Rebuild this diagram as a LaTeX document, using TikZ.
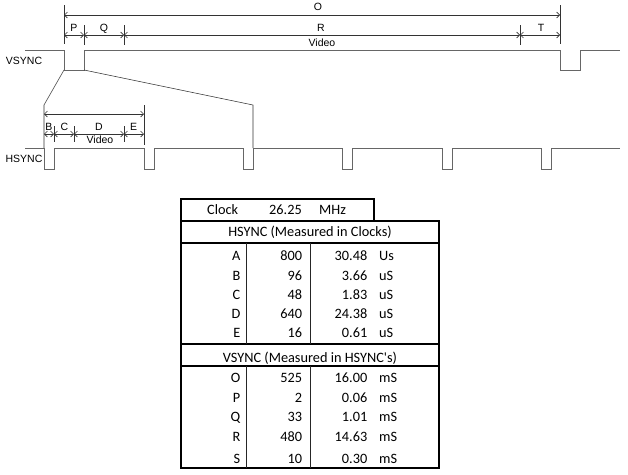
\documentclass[tikz,border=0pt]{standalone}
\usepackage{fontspec}
\setmainfont{Liberation Sans}
\newfontfamily\calfont{Carlito}
\usetikzlibrary{arrows.meta}
\begin{document}
\begin{tikzpicture}[x=1pt,y=-1pt,
  wave/.style={draw=black!60, line width=1pt},
  dimline/.style={draw=black!80, line width=0.55pt,
    {Straight Barb[length=3pt,width=6pt]}-{Straight Barb[length=3pt,width=6pt]}},
  tickline/.style={draw=black!80, line width=0.55pt},
  lbl/.style={font=\fontsize{10.5}{12}\selectfont, inner sep=0pt, anchor=base},
  tbl/.style={font=\calfont\fontsize{14.3}{16}\selectfont, inner sep=0pt},
  tborder/.style={draw=black, line width=1.3pt},
  tcol/.style={draw=black!85, line width=0.8pt},
]
\useasboundingbox (0,0) rectangle (628,474);

% ---------- VSYNC ----------
\draw[wave] (25,50) -- (64,50) -- (64,70) -- (84,70) -- (84,50) -- (560,50)
  -- (560,70) -- (580,70) -- (580,50) -- (620,50);
\node[lbl] (vsync) at (24,64.7) {VSYNC};

\draw[tickline] (64,5) -- (64,44);
\draw[tickline] (560,5) -- (560,44);
\foreach \x in {84,124,520} \draw[tickline] (\x,25) -- (\x,45);
\draw[dimline] (64,15) -- (560,15);
\foreach \a/\b in {64/84,84/124,124/520,520/560} \draw[dimline] (\a,35) -- (\b,35);
\node[lbl] (lO) at (318,10.5) {O};
\node[lbl] (lP) at (74,31) {P};
\node[lbl] (lQ) at (104,31) {Q};
\node[lbl] (lR) at (321,31) {R};
\node[lbl] (lT) at (541,31) {T};
\node[lbl] (lV1) at (322,46.5) {Video};

% ---------- zoom lines ----------
\draw[tickline] (64,70) -- (44,105) -- (44,148);
\draw[tickline] (84,70) -- (253,105) -- (253,148);

% ---------- HSYNC ----------
\draw[wave] (25,148) foreach \p in {44,144,243,342,442,541}
  { -- (\p,148) -- (\p,169) -- (\p+10,169) -- (\p+10,148) } -- (620,148);
\node[lbl] (hsync) at (24,162.7) {HSYNC};

\draw[tickline] (144,105) -- (144,145);
\foreach \x in {54,74,124} \draw[tickline] (\x,126) -- (\x,142);
\draw[dimline] (44,114) -- (144,114);
\foreach \a/\b in {44/54,54/74,74/124,124/144} \draw[dimline] (\a,134) -- (\b,134);
\node[lbl] (lB) at (49,130.5) {B};
\node[lbl] (lC) at (64.5,130.5) {C};
\node[lbl] (lD) at (99,130.5) {D};
\node[lbl] (lE) at (133.5,130.5) {E};
\node[lbl] (lV2) at (100,143.7) {Video};

% ---------- table ----------
\draw[tborder] (181,199) rectangle (374,221);
\draw[tborder] (181,221) rectangle (439,468);
\draw[tborder] (181,243) -- (439,243);
\draw[tborder] (181,344) -- (439,344);
\draw[tborder] (181,366) -- (439,366);
\draw[tcol] (246,243) -- (246,344) (310,243) -- (310,344)
            (246,366) -- (246,468) (310,366) -- (310,468);

\node[tbl, anchor=base west] (clk) at (207,214.6) {Clock};
\node[tbl, anchor=base east] (clkv) at (302,214.6) {26.25};
\node[tbl, anchor=base west] (clku) at (319,214.6) {MHz};
\node[tbl, anchor=base] (hhead) at (310,236.8) {HSYNC (Measured in Clocks)};
\node[tbl, anchor=base] (vhead) at (310,362.3) {VSYNC (Measured in HSYNC's)};

\foreach \y/\l/\n/\v/\u in {256/A/800/30.48/Us, 275.5/B/96/3.66/uS,
    295/C/48/1.83/uS, 314/D/640/24.38/uS, 333/E/16/0.61/uS,
    378/O/525/16.00/mS, 397.7/P/2/0.06/mS, 417/Q/33/1.01/mS,
    436.7/R/480/14.63/mS, 459/S/10/0.30/mS} {
  \node[tbl, anchor=base east] (k\l) at (240.5,\y+4.6) {\l};
  \node[tbl, anchor=base east] (n\l) at (302.3,\y+4.6) {\n};
  \node[tbl, anchor=base east] (v\l) at (367.5,\y+4.6) {\v};
  \node[tbl, anchor=base west] (u\l) at (379,\y+4.6) {\u};
}
\end{tikzpicture}
\end{document}
